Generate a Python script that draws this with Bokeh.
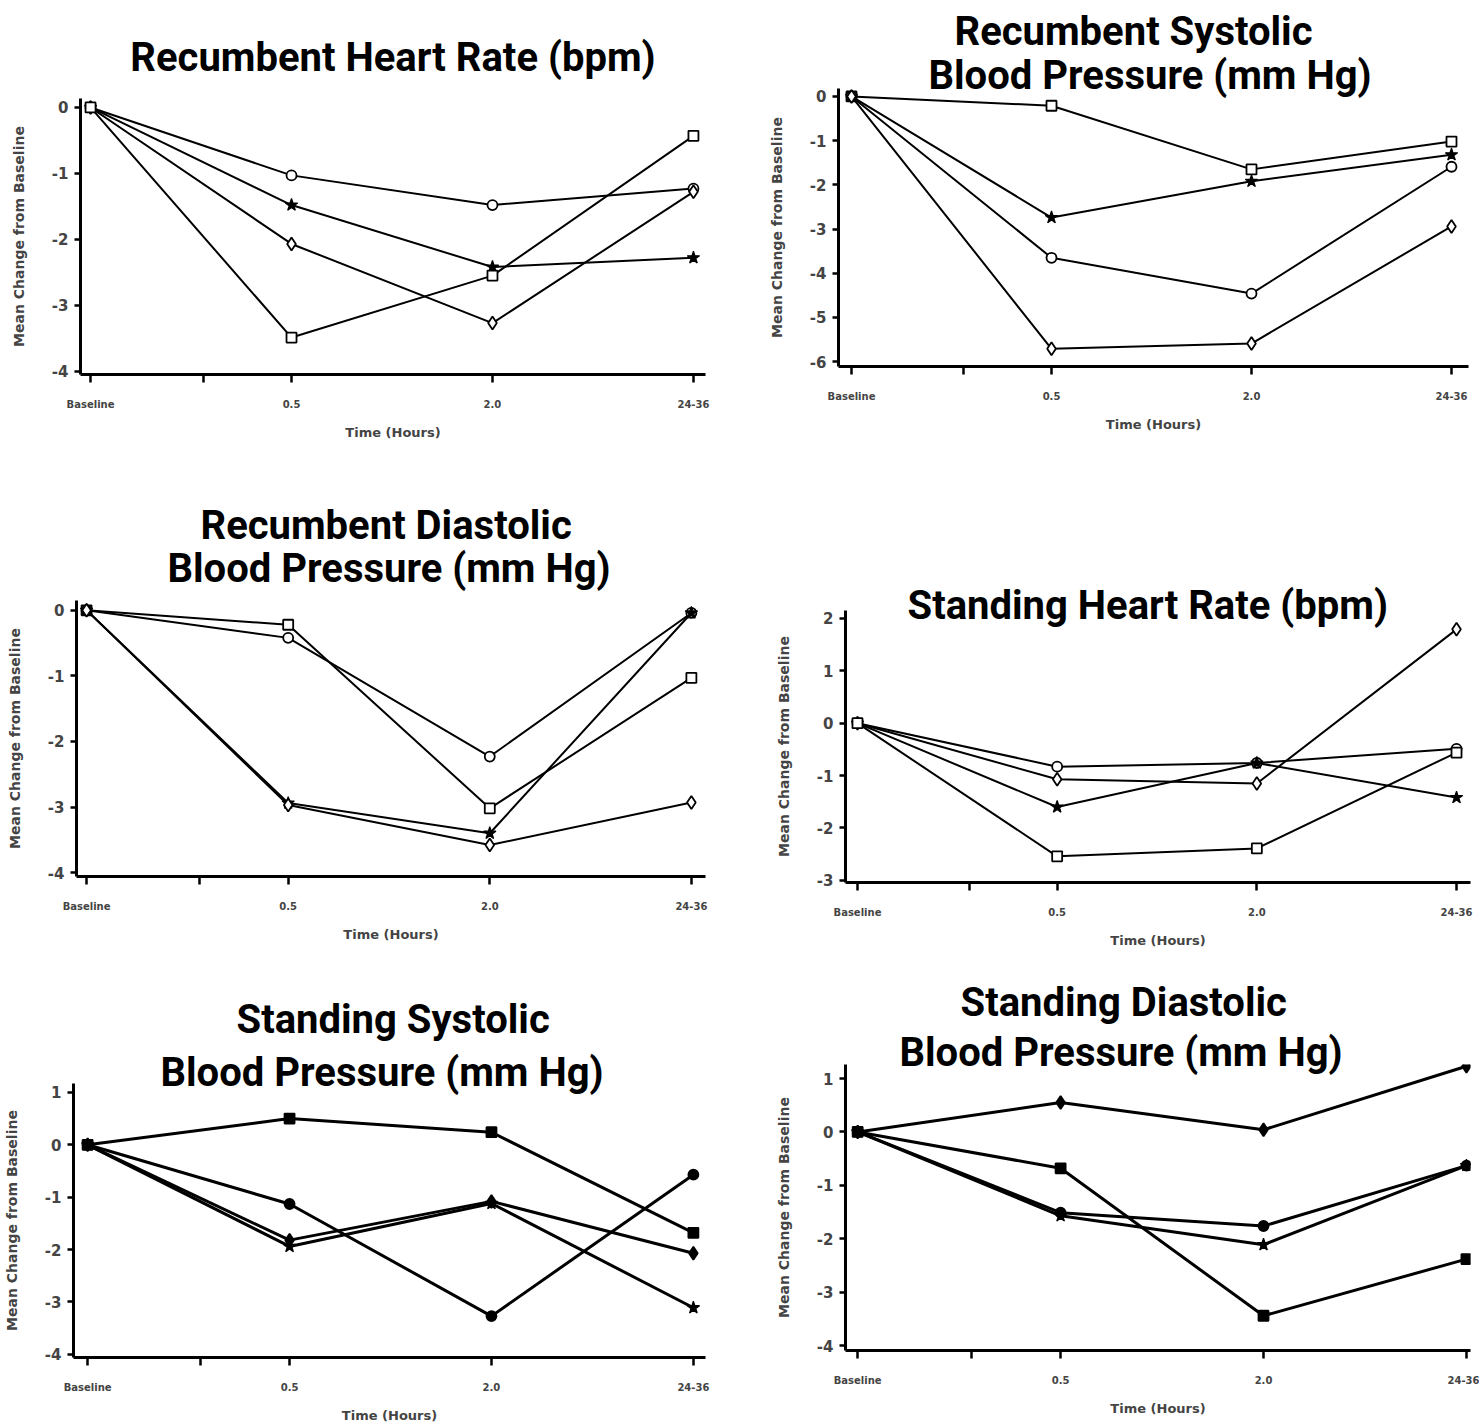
from bokeh.plotting import figure
from bokeh.layouts import column, row
from bokeh.models import FixedTicker, Range1d, Title
from bokeh.embed import file_html
from bokeh.resources import INLINE

# ---------------- data ----------------
time_pos = [0, 1, 2, 3]
time_labels = ["Baseline", "0.5", "2.0", "24-36"]
break_pos = 0.56

# Recumbent Heart Rate (bpm)
rhr_circle = [0, -1.03, -1.48, -1.23]
rhr_star = [0, -1.48, -2.42, -2.28]
rhr_diamond = [0, -2.07, -3.27, -1.28]
rhr_square = [0, -3.49, -2.55, -0.43]

# Recumbent Systolic Blood Pressure (mm Hg)
rsbp_square = [0, -0.21, -1.65, -1.02]
rsbp_star = [0, -2.74, -1.92, -1.32]
rsbp_circle = [0, -3.65, -4.46, -1.59]
rsbp_diamond = [0, -5.71, -5.59, -2.94]

# Recumbent Diastolic Blood Pressure (mm Hg)
rdbp_square = [0, -0.22, -3.02, -1.03]
rdbp_circle = [0, -0.42, -2.23, -0.04]
rdbp_star = [0, -2.94, -3.40, -0.04]
rdbp_diamond = [0, -2.97, -3.58, -2.93]

# Standing Heart Rate (bpm)
shr_circle = [0, -0.83, -0.76, -0.49]
shr_diamond = [0, -1.07, -1.15, 1.79]
shr_star = [0, -1.60, -0.76, -1.42]
shr_square = [0, -2.54, -2.39, -0.56]

# Standing Systolic Blood Pressure (mm Hg)
ssbp_square = [0, 0.50, 0.24, -1.68]
ssbp_circle = [0, -1.13, -3.27, -0.57]
ssbp_diamond = [0, -1.82, -1.08, -2.07]
ssbp_star = [0, -1.94, -1.12, -3.11]

# Standing Diastolic Blood Pressure (mm Hg)
sdbp_diamond = [0, 0.55, 0.04, 1.23]
sdbp_square = [0, -0.68, -3.44, -2.38]
sdbp_circle = [0, -1.51, -1.76, -0.63]
sdbp_star = [0, -1.57, -2.11, -0.63]

# y tick values per panel
rhr_yticks = [0, -1, -2, -3, -4]
rsbp_yticks = [0, -1, -2, -3, -4, -5, -6]
rdbp_yticks = [0, -1, -2, -3, -4]
shr_yticks = [2, 1, 0, -1, -2, -3]
ssbp_yticks = [1, 0, -1, -2, -3, -4]
sdbp_yticks = [1, 0, -1, -2, -3, -4]

TITLE_FONT = "Roboto"
AX_FONT = "DejaVu Sans"


def style_title(t, off):
    t.text_font = TITLE_FONT
    t.text_font_size = "40px"
    t.text_font_style = "bold"
    t.text_color = "black"
    if off is None:
        t.align = "center"
    else:
        t.align = "left"
        t.offset = off


def panel(titles, series, yticks, width, height, left, right, top, bottom,
          xr, yr, standoffs, offsets, filled=False, lw=2.0):
    p = figure(width=width, height=height, output_backend="svg",
               toolbar_location=None, x_range=Range1d(*xr), y_range=Range1d(*yr),
               min_border_left=left, min_border_right=right,
               min_border_top=top, min_border_bottom=bottom)
    # p.title is the line farthest from the frame; the added title sits closer
    p.title.text = titles[0]
    style_title(p.title, offsets[0])
    p.title.standoff = standoffs[0]
    if len(titles) > 1:
        t2 = Title(text=titles[1])
        style_title(t2, offsets[1])
        t2.standoff = standoffs[1]
        p.add_layout(t2, "above")
    p.outline_line_color = None
    p.grid.visible = False
    p.background_fill_color = "white"
    p.border_fill_color = "white"

    for vals, mk in series:
        p.line(time_pos, vals, line_color="black", line_width=lw)
        if mk == "star":
            p.scatter(time_pos, vals, marker="star", size=13,
                      line_color="black", line_width=1.2, fill_color="black")
        else:
            p.scatter(time_pos, vals, marker=mk, size=13 if mk == "diamond" else 10,
                      line_color="black", line_width=1.8,
                      fill_color="black" if filled else "white")

    xa = p.xaxis[0]
    xa.ticker = FixedTicker(ticks=[0, break_pos, 1, 2, 3])
    ov = {float(t): lab for t, lab in zip(time_pos, time_labels)}
    ov[break_pos] = ""
    xa.major_label_overrides = ov
    xa.axis_label = "Time (Hours)"
    xa.axis_label_text_font = AX_FONT
    xa.axis_label_text_font_style = "bold"
    xa.axis_label_text_font_size = "13px"
    xa.axis_label_standoff = 12
    xa.major_label_text_font = AX_FONT
    xa.major_label_text_font_style = "bold"
    xa.major_label_text_font_size = "10px"
    xa.major_label_standoff = 16
    xa.minor_tick_line_color = None
    xa.major_tick_out = 8
    xa.major_tick_in = 0
    xa.major_tick_line_width = 2.5
    xa.axis_line_width = 3

    ya = p.yaxis[0]
    ya.ticker = FixedTicker(ticks=yticks)
    ya.major_label_overrides = {float(t): str(t) for t in yticks}
    ya.axis_label = "Mean Change from Baseline"
    ya.axis_label_text_font = AX_FONT
    ya.axis_label_text_font_style = "bold"
    ya.axis_label_text_font_size = "14px"
    ya.axis_label_standoff = 22
    ya.major_label_text_font = AX_FONT
    ya.major_label_text_font_style = "bold"
    ya.major_label_text_font_size = "15px"
    ya.major_label_standoff = 6
    ya.minor_tick_line_color = None
    ya.major_tick_out = 6
    ya.major_tick_in = 0
    ya.major_tick_line_width = 2.5
    ya.axis_line_width = 3
    return p


p1 = panel(["Recumbent Heart Rate (bpm)"],
           [(rhr_circle, "circle"), (rhr_star, "star"), (rhr_diamond, "diamond"), (rhr_square, "square")],
           rhr_yticks, 739, 460, 80, 34, 98, 86, (-0.05, 3.06), (-4.05, 0.136),
           [36], [None])
p2 = panel(["Recumbent Systolic", "Blood Pressure (mm Hg)"],
           [(rsbp_square, "square"), (rsbp_star, "star"), (rsbp_circle, "circle"), (rsbp_diamond, "diamond")],
           rsbp_yticks, 740, 460, 99, 11, 88, 94, (-0.065, 3.085), (-6.11, 0.18),
           [11, -21], [116, 90])
p3 = panel(["Recumbent Diastolic", "Blood Pressure (mm Hg)"],
           [(rdbp_square, "square"), (rdbp_circle, "circle"), (rdbp_star, "star"), (rdbp_diamond, "diamond")],
           rdbp_yticks, 739, 500, 76, 34, 140, 84, (-0.05, 3.07), (-4.06, 0.15),
           [-28, 17], [124, 91])
p4 = panel(["Standing Heart Rate (bpm)"],
           [(shr_circle, "circle"), (shr_diamond, "diamond"), (shr_star, "star"), (shr_square, "square")],
           shr_yticks, 740, 500, 106, 9, 150, 78, (-0.06, 3.07), (-3.04, 2.15),
           [-37], [62])
p5 = panel(["Standing Systolic", "Blood Pressure (mm Hg)"],
           [(ssbp_square, "square"), (ssbp_circle, "circle"), (ssbp_diamond, "diamond"), (ssbp_star, "star")],
           ssbp_yticks, 739, 465, 72, 34, 123, 67, (-0.07, 3.06), (-4.06, 1.17),
           [34, -25], [163, 87], filled=True, lw=3)
p6 = panel(["Standing Diastolic", "Blood Pressure (mm Hg)"],
           [(sdbp_diamond, "diamond"), (sdbp_square, "square"), (sdbp_circle, "circle"), (sdbp_star, "star")],
           sdbp_yticks, 740, 465, 106, 9, 104, 75, (-0.06, 3.02), (-4.09, 1.262),
           [26, -23], [115, 54], filled=True, lw=3)

layout = column(row(column(p1), column(p2)), row(column(p3), column(p4)),
                row(column(p5), column(p6)))

open("out.html", "w").write(file_html(layout, INLINE))
